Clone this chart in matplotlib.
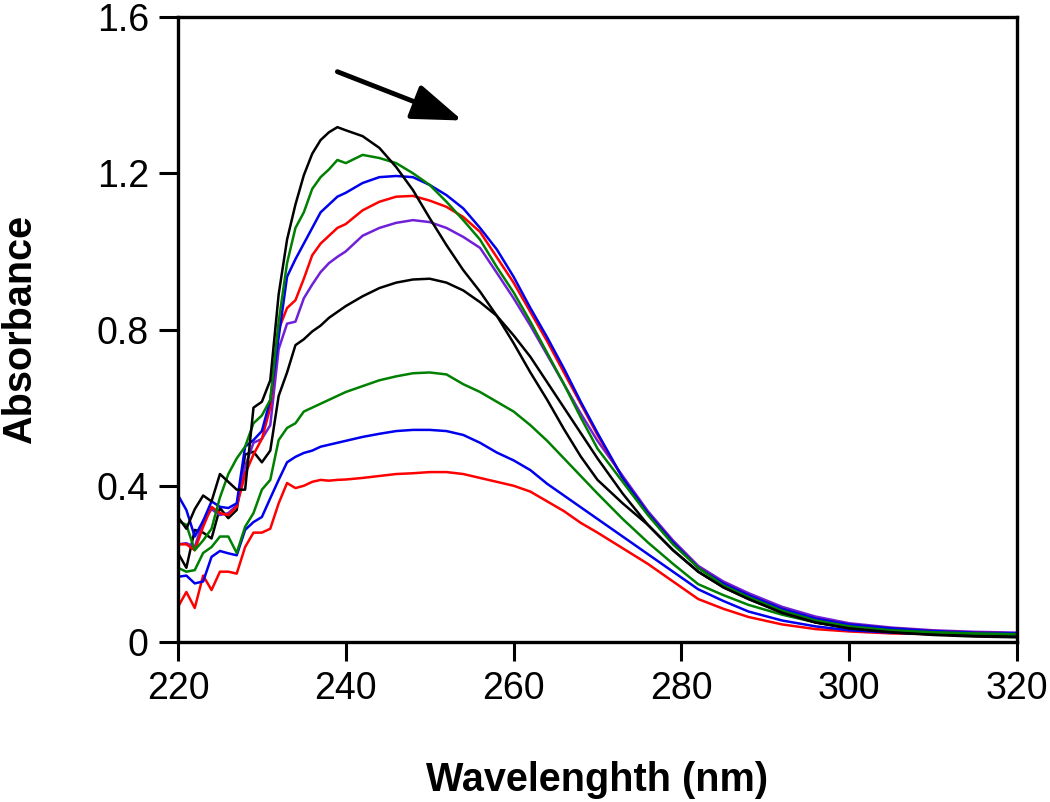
import numpy as np
import matplotlib
matplotlib.use('Agg')
import matplotlib.pyplot as plt

plt.rcParams['font.family'] = ['Liberation Sans', 'DejaVu Sans']

# wavelengths (nm)
wl = list(range(220, 241)) + list(range(242, 271, 2)) + \
    [273, 276, 279, 282, 285, 288, 292, 296, 300, 305, 310, 315, 320]

# absorbance spectra
black1 = [0.32, 0.29, 0.34, 0.375, 0.36, 0.43, 0.41, 0.39, 0.39, 0.60, 0.615, 0.67, 0.89, 1.03, 1.12, 1.195, 1.25, 1.285, 1.305, 1.318, 1.31,
          1.295, 1.265, 1.216, 1.157, 1.085, 1.016, 0.952, 0.897, 0.835, 0.765, 0.69, 0.62, 0.545, 0.475, 0.415,
          0.355, 0.30, 0.235, 0.18, 0.14, 0.11, 0.075, 0.05, 0.035, 0.025, 0.018, 0.014, 0.012]
green1 = [0.31, 0.30, 0.235, 0.26, 0.29, 0.37, 0.43, 0.47, 0.50, 0.56, 0.58, 0.62, 0.82, 0.97, 1.06, 1.10, 1.16, 1.19, 1.21, 1.234, 1.226,
          1.247, 1.239, 1.226, 1.20, 1.17, 1.127, 1.08, 1.03, 0.96, 0.895, 0.82, 0.74, 0.66, 0.575, 0.495,
          0.41, 0.325, 0.25, 0.19, 0.145, 0.115, 0.08, 0.055, 0.04, 0.03, 0.025, 0.022, 0.02]
blue1 = [0.376, 0.338, 0.27, 0.31, 0.36, 0.346, 0.343, 0.355, 0.50, 0.517, 0.54, 0.62, 0.78, 0.935, 0.98, 1.02, 1.06, 1.10, 1.12, 1.14, 1.15,
         1.175, 1.19, 1.193, 1.19, 1.17, 1.144, 1.11, 1.06, 1.005, 0.935, 0.855, 0.78, 0.70, 0.615, 0.535,
         0.42, 0.33, 0.255, 0.19, 0.15, 0.12, 0.085, 0.06, 0.045, 0.035, 0.028, 0.024, 0.022]
red1 = [0.25, 0.25, 0.235, 0.295, 0.346, 0.33, 0.325, 0.346, 0.43, 0.48, 0.52, 0.60, 0.80, 0.855, 0.875, 0.93, 0.99, 1.02, 1.04, 1.06, 1.07,
        1.105, 1.127, 1.14, 1.142, 1.13, 1.114, 1.088, 1.05, 0.985, 0.92, 0.845, 0.77, 0.69, 0.61, 0.53,
        0.42, 0.33, 0.255, 0.19, 0.15, 0.12, 0.085, 0.06, 0.045, 0.035, 0.028, 0.024, 0.022]
purple1 = [0.25, 0.253, 0.243, 0.31, 0.34, 0.325, 0.33, 0.35, 0.45, 0.51, 0.52, 0.555, 0.75, 0.815, 0.82, 0.88, 0.915, 0.947, 0.97, 0.986, 1.0,
           1.04, 1.06, 1.073, 1.08, 1.075, 1.06, 1.037, 1.009, 0.945, 0.88, 0.81, 0.735, 0.66, 0.585, 0.515,
           0.425, 0.335, 0.26, 0.195, 0.155, 0.125, 0.09, 0.065, 0.048, 0.037, 0.03, 0.026, 0.024]
black2 = [0.228, 0.19, 0.287, 0.28, 0.265, 0.343, 0.317, 0.338, 0.48, 0.487, 0.46, 0.49, 0.63, 0.69, 0.76, 0.775, 0.795, 0.81, 0.83, 0.845, 0.86,
          0.885, 0.906, 0.92, 0.928, 0.93, 0.92, 0.90, 0.87, 0.835, 0.785, 0.73, 0.665, 0.60, 0.535, 0.47,
          0.38, 0.30, 0.235, 0.18, 0.14, 0.11, 0.075, 0.05, 0.035, 0.025, 0.02, 0.016, 0.014]
green2 = [0.19, 0.18, 0.184, 0.228, 0.243, 0.27, 0.27, 0.228, 0.295, 0.33, 0.39, 0.415, 0.517, 0.548, 0.56, 0.59, 0.60, 0.61, 0.62, 0.63, 0.64,
          0.655, 0.67, 0.68, 0.688, 0.69, 0.685, 0.66, 0.64, 0.615, 0.59, 0.555, 0.515, 0.47, 0.425, 0.38,
          0.315, 0.255, 0.20, 0.148, 0.12, 0.095, 0.07, 0.05, 0.037, 0.03, 0.025, 0.022, 0.02]
blue2 = [0.167, 0.17, 0.15, 0.155, 0.218, 0.233, 0.227, 0.222, 0.287, 0.307, 0.32, 0.368, 0.415, 0.46, 0.474, 0.484, 0.49, 0.50, 0.505, 0.51, 0.515,
         0.525, 0.533, 0.54, 0.543, 0.543, 0.54, 0.53, 0.51, 0.485, 0.465, 0.44, 0.405, 0.375, 0.345, 0.315,
         0.27, 0.225, 0.18, 0.135, 0.105, 0.078, 0.055, 0.04, 0.03, 0.024, 0.02, 0.017, 0.015]
red2 = [0.09, 0.128, 0.087, 0.17, 0.133, 0.18, 0.18, 0.175, 0.243, 0.28, 0.28, 0.29, 0.355, 0.407, 0.394, 0.40, 0.41, 0.415, 0.413, 0.415, 0.416,
        0.42, 0.425, 0.43, 0.432, 0.435, 0.435, 0.43, 0.42, 0.41, 0.40, 0.385, 0.36, 0.335, 0.305, 0.28,
        0.24, 0.20, 0.155, 0.11, 0.085, 0.064, 0.045, 0.033, 0.027, 0.022, 0.02, 0.018, 0.018]

series = [red2, blue2, green2, black2, purple1, red1, blue1, green1, black1]
colors = ['#ff0000', '#0000ee', '#008000', '#000000', '#7020d8',
          '#ff0000', '#0000ee', '#008000', '#000000']

fig = plt.figure(figsize=(10.5, 8.02), dpi=100)
ax = fig.add_axes([0.1695, 0.1995, 0.7991, 0.7793])

for ys, c in zip(series, colors):
    ax.plot(wl, ys, color=c, lw=1.8)

ax.set_xlim(220, 320)
ax.set_ylim(0, 1.6)
ax.set_xticks([220, 240, 260, 280, 300, 320])
ax.set_yticks([0, 0.4, 0.8, 1.2, 1.6])
ax.set_yticklabels(['0', '0.4', '0.8', '1.2', '1.6'])
ax.tick_params(direction='out', length=14, width=2.2, labelsize=27, pad=7)
for s in ax.spines.values():
    s.set_linewidth(2.4)

ax.set_xlabel('Wavelenghth (nm)', fontsize=28.5, fontweight='bold')
ax.set_ylabel('Absorbance', fontsize=28.5, fontweight='bold')
ax.xaxis.set_label_coords(0.5, -0.19)
ax.yaxis.set_label_coords(-0.166, 0.5)

# arrow showing the shift
ax.annotate('', xy=(253.9, 1.335), xytext=(239.0, 1.46),
            arrowprops=dict(arrowstyle='-|>,head_length=1.55,head_width=0.55',
                            mutation_scale=20, color='black', lw=3.5,
                            shrinkA=0, shrinkB=0))

fig.savefig('out.png', dpi=100)
